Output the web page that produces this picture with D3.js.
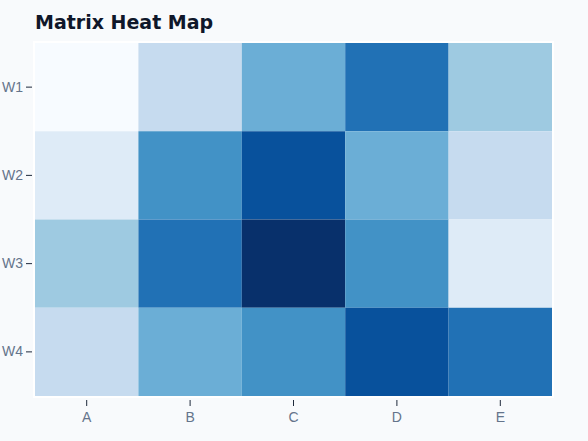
<!DOCTYPE html>
<html><head><meta charset="utf-8">
<script src="https://cdn.jsdelivr.net/npm/d3@7"></script>
<style>
  body { margin:0; background:#f8fafc; font-family:"DejaVu Sans", sans-serif; }
  .axis text { fill:#64748b; font-size:14px; }
  .axis line { stroke:#1e293b; }
  .axis path { display:none; }
</style></head>
<body><svg id="heat" width="588" height="441"></svg>
<script>
  // matrix data (levels 0..8 on a 9-step blue scale)
  const cols = ["A", "B", "C", "D", "E"];
  const rows = ["W1", "W2", "W3", "W4"];
  const values = [
    [0, 2, 4, 6, 3],
    [1, 5, 7, 4, 2],
    [3, 6, 8, 5, 1],
    [2, 4, 5, 7, 6]
  ];

  let svg = d3.select("svg#heat");
  let margin = { top: 43, right: 36, bottom: 45, left: 35 };
  let chartWidth = 588 - margin.left - margin.right;
  let chartHeight = 441 - margin.top - margin.bottom;

  svg.append("rect").attr("width", 588).attr("height", 441).attr("fill", "#f8fafc");
  svg.append("text").attr("x", 35).attr("y", 29)
    .attr("font-size", 19).attr("font-weight", "bold").attr("fill", "#0f172a")
    .text("Matrix Heat Map");

  const x = d3.scaleBand().domain(cols).range([0, chartWidth]);
  const y = d3.scaleBand().domain(rows).range([0, chartHeight]);
  const color = d3.scaleOrdinal().domain(d3.range(9)).range(d3.schemeBlues[9]);

  let g = svg.append("g").attr("transform", "translate(" + margin.left + "," + margin.top + ")");

  g.append("rect").attr("x", -2).attr("y", -2)
    .attr("width", chartWidth + 4).attr("height", chartHeight + 4).attr("fill", "#fff");

  values.forEach((row, i) => {
    row.forEach((v, j) => {
      g.append("rect")
        .attr("x", x(cols[j])).attr("y", y(rows[i]))
        .attr("width", x.bandwidth()).attr("height", y.bandwidth())
        .attr("fill", color(v));
    });
  });

  svg.append("g").attr("class", "axis")
    .attr("transform", "translate(" + margin.left + "," + (margin.top + chartHeight + 4) + ")")
    .call(d3.axisBottom(x).tickSize(6).tickPadding(6));

  svg.append("g").attr("class", "axis")
    .attr("transform", "translate(" + (margin.left - 3) + "," + margin.top + ")")
    .call(d3.axisLeft(y).tickSize(6).tickPadding(3));
</script>
</body></html>
